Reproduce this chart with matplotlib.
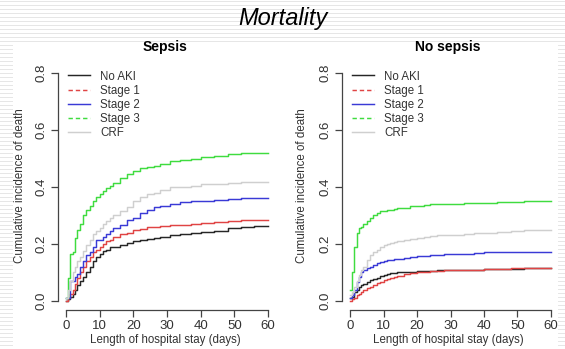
import matplotlib
matplotlib.use("Agg")
import matplotlib.pyplot as plt
from matplotlib.lines import Line2D
from matplotlib.patches import Rectangle

plt.rcParams['font.family'] = ['Liberation Sans', 'DejaVu Sans']

# Day grid at which the cumulative incidence is read
days = [0, 0.7, 1.3, 2, 2.7, 3.3, 4, 5, 6, 7, 8, 9, 10, 11, 12, 13, 14, 16, 18,
        20, 22, 24, 26, 28, 31, 34, 37, 40, 44, 48, 52, 56, 60]

groups = ["No AKI", "Stage 1", "Stage 2", "Stage 3", "CRF"]

# Sepsis
sepsis_no_aki = [0.0, 0.005, 0.015, 0.025, 0.04, 0.055, 0.07, 0.085, 0.10, 0.12, 0.14, 0.155,
                 0.165, 0.175, 0.18, 0.19, 0.19, 0.195, 0.205, 0.21, 0.215, 0.218, 0.22, 0.225,
                 0.23, 0.235, 0.24, 0.243, 0.247, 0.255, 0.26, 0.264, 0.264]
sepsis_stage1 = [0.0, 0.01, 0.025, 0.04, 0.06, 0.08, 0.10, 0.12, 0.14, 0.155, 0.17, 0.18,
                 0.19, 0.20, 0.21, 0.215, 0.225, 0.235, 0.24, 0.25, 0.253, 0.258, 0.261, 0.262,
                 0.265, 0.268, 0.27, 0.274, 0.278, 0.28, 0.283, 0.285, 0.285]
sepsis_stage2 = [0.01, 0.01, 0.07, 0.07, 0.085, 0.095, 0.12, 0.14, 0.16, 0.17, 0.19, 0.215,
                 0.215, 0.225, 0.235, 0.245, 0.255, 0.265, 0.285, 0.29, 0.31, 0.32, 0.33, 0.335,
                 0.34, 0.348, 0.35, 0.352, 0.355, 0.358, 0.362, 0.362, 0.362]
sepsis_stage3 = [0.01, 0.08, 0.165, 0.17, 0.22, 0.25, 0.27, 0.30, 0.32, 0.335, 0.35, 0.365,
                 0.375, 0.385, 0.395, 0.405, 0.415, 0.43, 0.445, 0.455, 0.465, 0.47, 0.475, 0.48,
                 0.49, 0.495, 0.50, 0.505, 0.51, 0.515, 0.52, 0.52, 0.52]
sepsis_crf = [0.01, 0.04, 0.07, 0.10, 0.12, 0.14, 0.155, 0.175, 0.195, 0.215, 0.235, 0.245,
              0.255, 0.27, 0.28, 0.29, 0.30, 0.315, 0.33, 0.35, 0.365, 0.375, 0.38, 0.39,
              0.40, 0.40, 0.405, 0.41, 0.41, 0.415, 0.417, 0.417, 0.417]

# No sepsis
nosepsis_no_aki = [0.01, 0.015, 0.03, 0.04, 0.05, 0.055, 0.06, 0.067, 0.072, 0.077, 0.082, 0.087,
                   0.09, 0.094, 0.097, 0.099, 0.10, 0.102, 0.103, 0.104, 0.105, 0.106, 0.107, 0.108,
                   0.109, 0.11, 0.11, 0.111, 0.112, 0.113, 0.114, 0.115, 0.115]
nosepsis_stage1 = [0.0, 0.005, 0.01, 0.02, 0.025, 0.03, 0.037, 0.045, 0.05, 0.056, 0.062, 0.067,
                   0.072, 0.076, 0.079, 0.083, 0.087, 0.093, 0.098, 0.101, 0.103, 0.105, 0.106, 0.107,
                   0.108, 0.109, 0.11, 0.111, 0.112, 0.114, 0.115, 0.116, 0.117]
nosepsis_stage2 = [0.01, 0.02, 0.04, 0.067, 0.085, 0.10, 0.11, 0.115, 0.12, 0.126, 0.132, 0.138,
                   0.14, 0.142, 0.144, 0.146, 0.148, 0.152, 0.154, 0.156, 0.158, 0.16, 0.162, 0.163,
                   0.164, 0.166, 0.168, 0.171, 0.172, 0.172, 0.173, 0.173, 0.173]
nosepsis_stage3 = [0.04, 0.10, 0.19, 0.24, 0.255, 0.26, 0.27, 0.28, 0.29, 0.30, 0.31, 0.315,
                   0.315, 0.318, 0.32, 0.322, 0.325, 0.328, 0.332, 0.335, 0.338, 0.34, 0.34, 0.341,
                   0.342, 0.343, 0.344, 0.345, 0.346, 0.348, 0.35, 0.35, 0.35]
nosepsis_crf = [0.02, 0.03, 0.05, 0.07, 0.09, 0.11, 0.12, 0.145, 0.16, 0.173, 0.18, 0.19,
                0.195, 0.20, 0.205, 0.208, 0.21, 0.213, 0.217, 0.222, 0.226, 0.228, 0.23, 0.232,
                0.233, 0.235, 0.237, 0.238, 0.241, 0.244, 0.25, 0.25, 0.25]

x_ticks = [0, 10, 20, 30, 40, 50, 60]
y_ticks = [0.0, 0.2, 0.4, 0.6, 0.8]
y_ticklabels = ["0.0", "0.2", "0.4", "0.6", "0.8"]

colors = {"No AKI": "#262626", "Stage 1": "#e04444", "Stage 2": "#3a3ad6",
          "Stage 3": "#3fdc3f", "CRF": "#cfcfcf"}
legend_styles = {"No AKI": "-", "Stage 1": (0, (3, 2)), "Stage 2": "-",
                 "Stage 3": (0, (3, 2)), "CRF": "-"}

W, H = 565, 349
fig = plt.figure(figsize=(W / 100, H / 100), dpi=100)

# slide background with thin horizontal stripes and a white content area
bg = fig.add_axes([0, 0, 1, 1])
bg.set_xlim(0, W)
bg.set_ylim(H, 0)
bg.axis("off")
for yy in range(0, H, 4):
    bg.add_patch(Rectangle((0, yy + 0.5), W, 1.8, color="#e6e6e6", lw=0))
bg.add_patch(Rectangle((13, 41.5), 544.5, H - 41.5, color="white", lw=0))

bg.text(283, 19, "Mortality", ha="center", va="center", fontsize=17, style="italic")


def px_axes(x0, x1, y0, y1):
    return fig.add_axes([x0 / W, 1 - y1 / H, (x1 - x0) / W, (y1 - y0) / H])


def draw_panel(ax, series, title, cx, ylab_x, leg_x):
    for name, vals in zip(groups, series):
        ax.step(days, vals, where="post", color=colors[name], lw=1.05)
    ax.set_xlim(-2.4, 62.4)
    ax.set_ylim(-0.032, 0.832)
    ax.set_xticks(x_ticks)
    ax.set_yticks(y_ticks)
    ax.set_yticklabels(y_ticklabels, rotation=90, va="center")
    for s in ["top", "right"]:
        ax.spines[s].set_visible(False)
    ax.spines["left"].set_bounds(0, 0.8)
    ax.spines["bottom"].set_bounds(0, 60)
    for s in ["left", "bottom"]:
        ax.spines[s].set_color("#444444")
        ax.spines[s].set_linewidth(0.9)
    ax.tick_params(direction="out", length=5, width=0.9, color="#444444",
                   labelsize=9.5, labelcolor="#333333", pad=2.5)
    ax.patch.set_alpha(0)
    bg.text(cx, 47, title, ha="center", va="center", fontsize=10, fontweight="bold")
    bg.text(ylab_x, 186, "Cumulative incidence of death", ha="center", va="center",
            rotation=90, fontsize=8.3, color="#333333")
    bg.text(cx, 340, "Length of hospital stay (days)", ha="center", va="center",
            fontsize=8.3, color="#333333")
    handles = [Line2D([], [], color=colors[n], ls=legend_styles[n], lw=1.05) for n in groups]
    ax.legend(handles, groups, loc="upper left", bbox_to_anchor=(leg_x, 70.5),
              bbox_transform=bg.transData, frameon=False, fontsize=8.3,
              handlelength=1.9, handletextpad=0.9, labelspacing=0.18,
              borderpad=0, borderaxespad=0, labelcolor="#333333")


ax1 = px_axes(58, 276, 64, 310)
draw_panel(ax1, [sepsis_no_aki, sepsis_stage1, sepsis_stage2, sepsis_stage3, sepsis_crf],
           "Sepsis", 165, 20, 68)

ax2 = px_axes(342, 559, 64, 310)
draw_panel(ax2, [nosepsis_no_aki, nosepsis_stage1, nosepsis_stage2, nosepsis_stage3, nosepsis_crf],
           "No sepsis", 448, 302, 352)

fig.savefig("out.png", dpi=100)
